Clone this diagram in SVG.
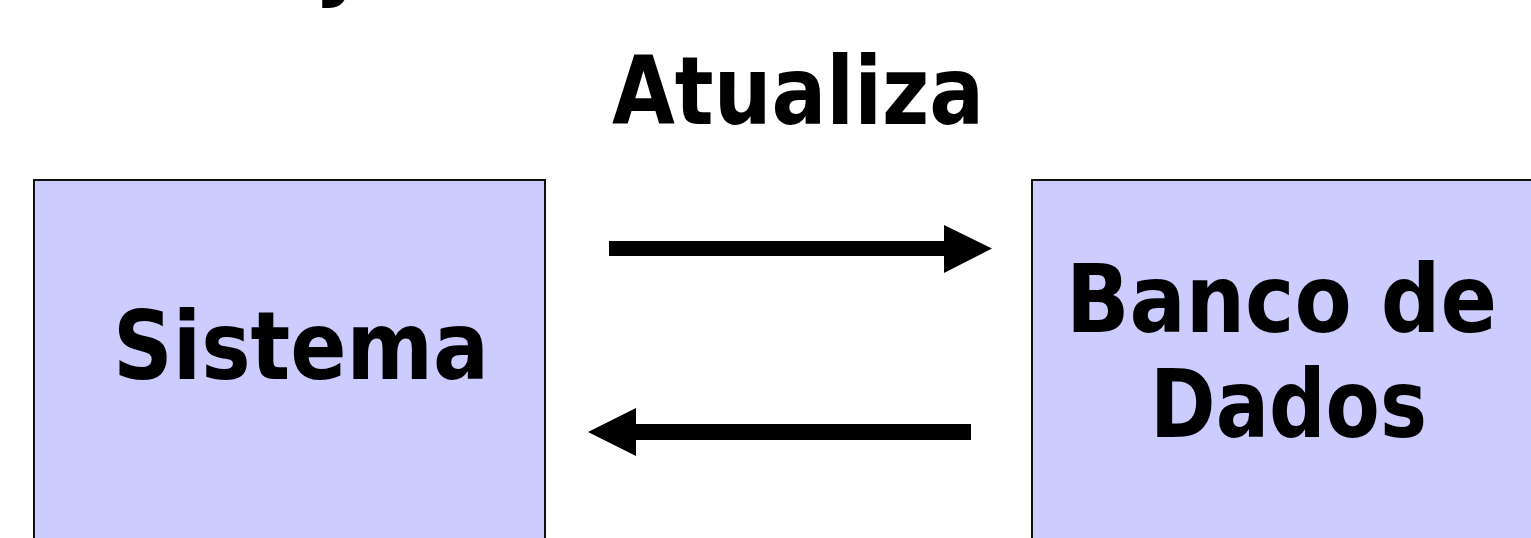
<svg xmlns="http://www.w3.org/2000/svg" width="1531" height="538" viewBox="0 0 1531 538">
  <style>
    .box { fill: #CCCCFF; stroke: #111111; stroke-width: 2; }
    .lbl { font-family: "DejaVu Sans Condensed", "DejaVu Sans", sans-serif; font-weight: bold; font-stretch: condensed; font-size: 95px; fill: #000000; }
    .arrow { fill: #000000; }
  </style>
  <rect width="1531" height="538" fill="#FFFFFF"/>
  <text class="lbl" x="325" y="-12">j</text>
  <text class="lbl" x="612" y="124" textLength="372" lengthAdjust="spacingAndGlyphs">Atualiza</text>
  <g id="node-sistema">
    <rect class="box" x="34" y="180" width="511" height="370"/>
    <text class="lbl" x="113" y="379" textLength="376" lengthAdjust="spacingAndGlyphs">Sistema</text>
  </g>
  <g id="node-banco">
    <rect class="box" x="1032" y="180" width="520" height="370"/>
    <text class="lbl" x="1066" y="332" textLength="431" lengthAdjust="spacingAndGlyphs">Banco de</text>
    <text class="lbl" x="1150" y="437" textLength="277" lengthAdjust="spacingAndGlyphs">Dados</text>
  </g>
  <g id="connectors">
    <polygon class="arrow" points="609,241 944,241 944,225 992,248.5 944,273 944,256 609,256"/>
    <polygon class="arrow" points="971,424 636,424 636,408 588,432 636,456 636,440 971,440"/>
  </g>
</svg>
